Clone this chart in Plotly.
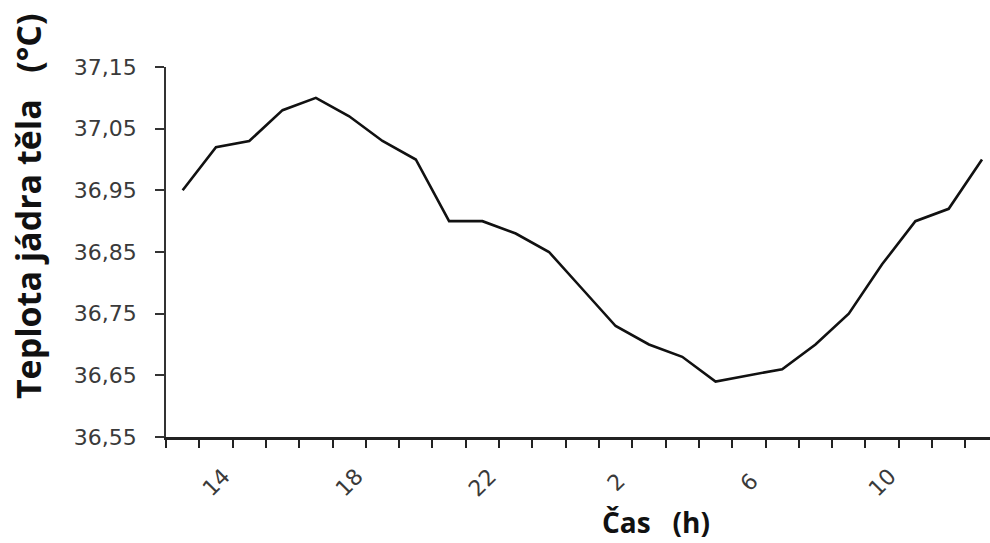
import plotly.graph_objects as go

# Data (hour of day, body core temperature)
hours = [13, 14, 15, 16, 17, 18, 19, 20, 21, 22, 23, 0, 1, 2, 3, 4, 5, 6, 7, 8, 9, 10, 11, 12, 13]
temps = [36.95, 37.02, 37.03, 37.08, 37.10, 37.07, 37.03, 37.00, 36.90, 36.90, 36.88, 36.85,
         36.79, 36.73, 36.70, 36.68, 36.64, 36.65, 36.66, 36.70, 36.75, 36.83, 36.90, 36.92, 37.00]

x_label_hours = [14, 18, 22, 2, 6, 10]
y_tick_vals = [36.55, 36.65, 36.75, 36.85, 36.95, 37.05, 37.15]
y_tick_text = ["36,55", "36,65", "36,75", "36,85", "36,95", "37,05", "37,15"]

x_title = "Čas   (h)"
y_title = "Teplota jádra těla   (°C)"

idx = list(range(len(hours)))

fig = go.Figure()
fig.add_trace(go.Scatter(
    x=idx, y=temps, mode="lines",
    line=dict(color="#111111", width=2.6),
    hoverinfo="skip", showlegend=False,
))

# X tick labels as rotated annotations at category centres
label_idx = [hours.index(h) for h in x_label_hours]
for i, h in zip(label_idx, x_label_hours):
    fig.add_annotation(
        x=i, xref="x", y=-0.122, yref="paper",
        text=str(h), textangle=-45, showarrow=False,
        xanchor="center", yanchor="middle",
        font=dict(family="DejaVu Sans", size=22, color="#3a3a3a"),
    )

fig.add_annotation(
    x=0.5947, xref="paper", y=-0.23, yref="paper",
    text=f"<b>{x_title}</b>", showarrow=False,
    xanchor="center", yanchor="middle",
    font=dict(family="Open Sans", size=28, color="#111111"),
)
fig.add_annotation(
    x=-0.1675, xref="paper", y=0.624, yref="paper",
    text=f"<b>{y_title}</b>", textangle=-90, showarrow=False,
    xanchor="center", yanchor="middle",
    font=dict(family="Open Sans", size=34, color="#111111"),
)

fig.update_layout(
    width=990, height=543,
    margin=dict(l=166, r=0, t=67, b=106),
    paper_bgcolor="white", plot_bgcolor="white",
    showlegend=False,
)
fig.update_xaxes(
    range=[-0.5, 24.24],
    tickmode="linear", tick0=-0.5, dtick=1,
    ticks="outside", ticklen=8, tickwidth=2, tickcolor="#222222",
    showticklabels=False,
    showline=True, linecolor="#222222", linewidth=2.5,
    showgrid=False, zeroline=False,
)
fig.update_yaxes(
    range=[36.55, 37.15],
    tickmode="array", tickvals=y_tick_vals, ticktext=y_tick_text,
    ticks="outside", ticklen=9, tickwidth=1.5, tickcolor="#333333",
    ticklabelstandoff=14,
    tickfont=dict(family="DejaVu Sans", size=22, color="#3a3a3a"),
    showline=True, linecolor="#333333", linewidth=1.5,
    showgrid=False, zeroline=False,
)

fig.write_html("out.html")
